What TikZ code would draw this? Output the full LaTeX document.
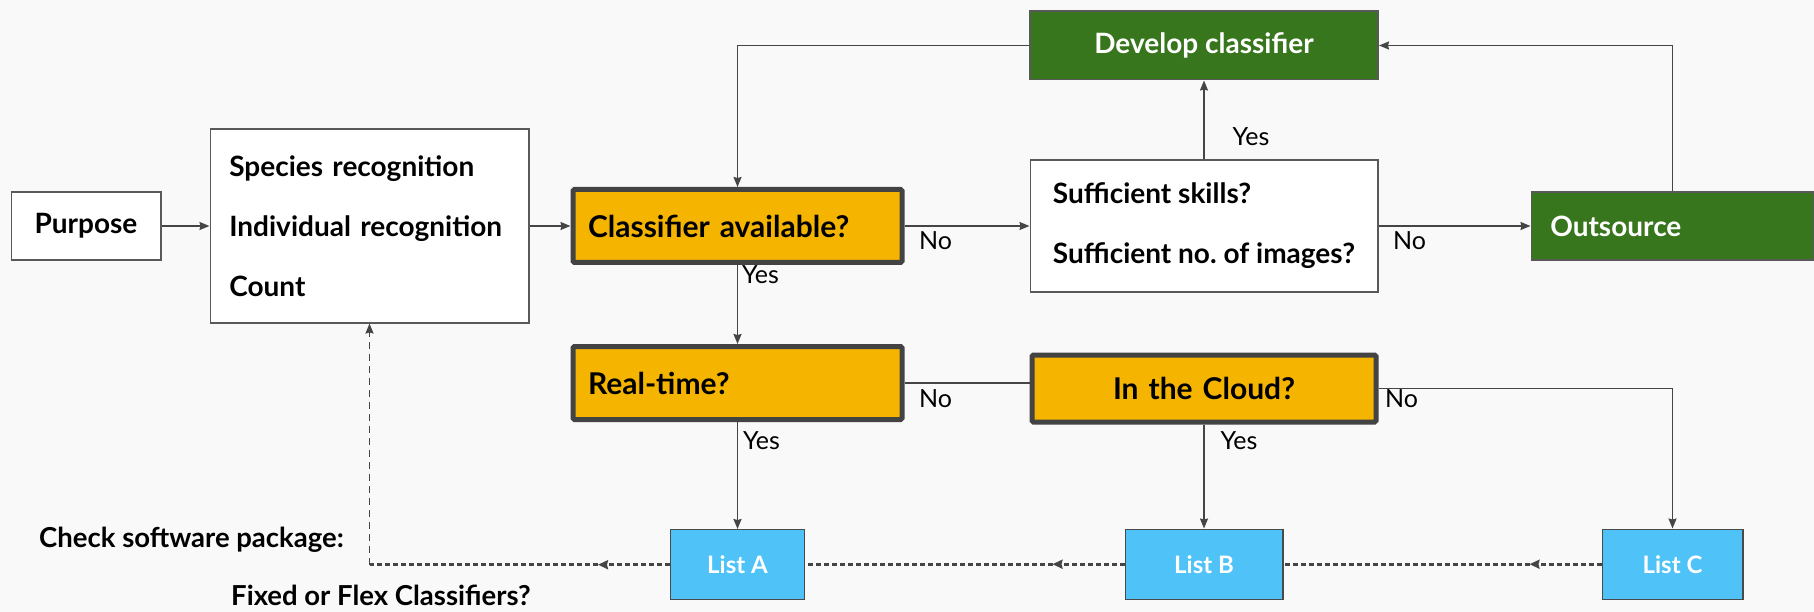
\documentclass[tikz,border=0pt]{standalone}
\usepackage{fontspec}
\setmainfont{Lato}
\frenchspacing
\usetikzlibrary{arrows.meta, positioning, decorations.markings}
\usepackage{xcolor}
\definecolor{pagefill}{HTML}{F9F9F9}
\definecolor{boxstr}{HTML}{595959}
\definecolor{qfill}{HTML}{F4B400}
\definecolor{qstr}{HTML}{434343}
\definecolor{actfill}{HTML}{38761D}
\definecolor{listfill}{HTML}{4FC3F7}
\definecolor{liststr}{HTML}{4A4A4A}
\definecolor{linestr}{HTML}{454545}
\tikzset{
  plainbox/.style={rectangle, draw=boxstr, fill=white, line width=1.6pt,
                   inner xsep=19pt, align=left, font=\bfseries\fontsize{28}{34}\selectfont},
  qbox/.style    ={rectangle, rounded corners=1.5pt, draw=qstr, fill=qfill, line width=5pt,
                   minimum width=329pt, minimum height=73pt, inner xsep=15pt,
                   text width=299pt, align=left, font=\bfseries\fontsize{30}{36}\selectfont},
  actbox/.style  ={rectangle, draw=boxstr, fill=actfill, line width=1.6pt, text=white,
                   minimum height=68.4pt, inner xsep=19pt, font=\bfseries\fontsize{28}{34}\selectfont},
  listbox/.style ={rectangle, draw=liststr, fill=listfill, line width=1.4pt, text=white,
                   minimum height=70pt, align=center, font=\bfseries\fontsize{24}{29}\selectfont},
  note/.style    ={inner sep=0pt, anchor=west, font=\bfseries\fontsize{27.5}{33}\selectfont},
  lbl/.style     ={inner sep=0pt, font=\fontsize{25}{30}\selectfont},
  flow/.style    ={-{Stealth[length=10pt, width=8pt, inset=1pt]}, line width=1.6pt, draw=linestr},
  link/.style    ={line width=1.6pt, draw=linestr},
  backflow/.style={line width=3pt, draw=linestr, dash pattern=on 5pt off 3pt,
                   postaction={decorate}, decoration={markings,
                   mark=at position 72pt with {\arrow{Stealth[length=10pt, width=9pt, inset=1pt]}}}},
  backup/.style  ={-{Stealth[length=10pt, width=8pt, inset=1pt]}, line width=1.6pt,
                   draw=linestr, dash pattern=on 7pt off 5pt},
}
\begin{document}
\begin{tikzpicture}[x=1pt, y=-1pt, node distance=79pt and 48pt]
  \fill[pagefill] (0,0) rectangle (1814,612);
  \useasboundingbox (0,0) rectangle (1814,612);

  % top row
  \node[plainbox, minimum width=149.4pt, minimum height=68.4pt, align=center] (purpose) at (86,226) {Purpose};
  \node[plainbox, right=of purpose, minimum width=318.4pt, minimum height=193.4pt, text width=280.4pt] (tasks)
    {Species recognition\\[26pt]Individual recognition\\[26pt]Count};
  \node[qbox, right=41pt of tasks] (avail) {Classifier available?};
  \node[plainbox, right=125pt of avail, minimum width=347.4pt, minimum height=131.4pt, inner xsep=6pt] (skills)
    {Sufficient skills?\\[26pt]Sufficient no. of images?};
  \node[actbox, right=152pt of skills, minimum width=282.4pt, text width=244.4pt, align=left] (outsrc) {Outsource};
  \node[actbox, above=of skills, minimum width=348.4pt, align=center] (develop) {Develop classifier};

  % second row
  \node[qbox, below=of avail] (realtime) {Real-time?};
  \node[qbox, below=60pt of skills, minimum width=344pt, minimum height=67pt, text width=314pt, align=center] (cloud) {In the Cloud?};

  % lists
  \node[listbox, below=107pt of realtime, minimum width=133.6pt] (lista) {List A};
  \node[listbox, below=104pt of cloud, minimum width=157.6pt] (listb) {List B};
  \node[listbox, minimum width=140.6pt] (listc) at (outsrc |- listb) {List C};

  \node[note] (chk) at (39,540) {Check software package:};
  \node[note] (flex) at (231,595) {Fixed or Flex Classifiers?};

  % connectors
  \draw[flow] (purpose) -- (tasks);
  \draw[flow] (tasks) -- (avail);
  \draw[flow] (avail) -- node[lbl, pos=0, xshift=31pt, yshift=-15pt] (no1) {No} (skills);
  \draw[flow] (avail) -- node[lbl, pos=0, xshift=23pt, yshift=-10pt] (yes1) {Yes} (realtime);
  \draw[flow] (skills) -- node[lbl, pos=0.5, xshift=47pt, yshift=-17pt] (yes2) {Yes} (develop);
  \draw[flow] (skills) -- node[lbl, pos=0, xshift=31pt, yshift=-15pt] (no2) {No} (outsrc);
  \draw[flow] (outsrc.north) |- (develop.east);
  \draw[flow] (develop.west) -| (avail.north);
  \draw[link] (realtime.east) -- node[lbl, pos=0, xshift=31pt, yshift=-16pt] (no3) {No} (realtime.east -| cloud.west);
  \draw[flow] (realtime) -- node[lbl, pos=0, xshift=24pt, yshift=-19pt] (yes3) {Yes} (lista);
  \draw[flow] (cloud) -- node[lbl, pos=0, xshift=35pt, yshift=-16pt] (yes4) {Yes} (listb);
  \draw[flow] (cloud.east) -| node[lbl, pos=0, xshift=23pt, yshift=-10pt] (no4) {No} (listc.north);

  % back to the software check
  \coordinate (turn) at (tasks.south |- lista.west);
  \draw[backflow] (listc.west) -- (listc.west -| listb.east);
  \draw[backflow] (listb.west) -- (listb.west -| lista.east);
  \draw[backflow] (lista.west) -- (turn);
  \draw[backup] (turn) -- (tasks.south);
\end{tikzpicture}
\end{document}
